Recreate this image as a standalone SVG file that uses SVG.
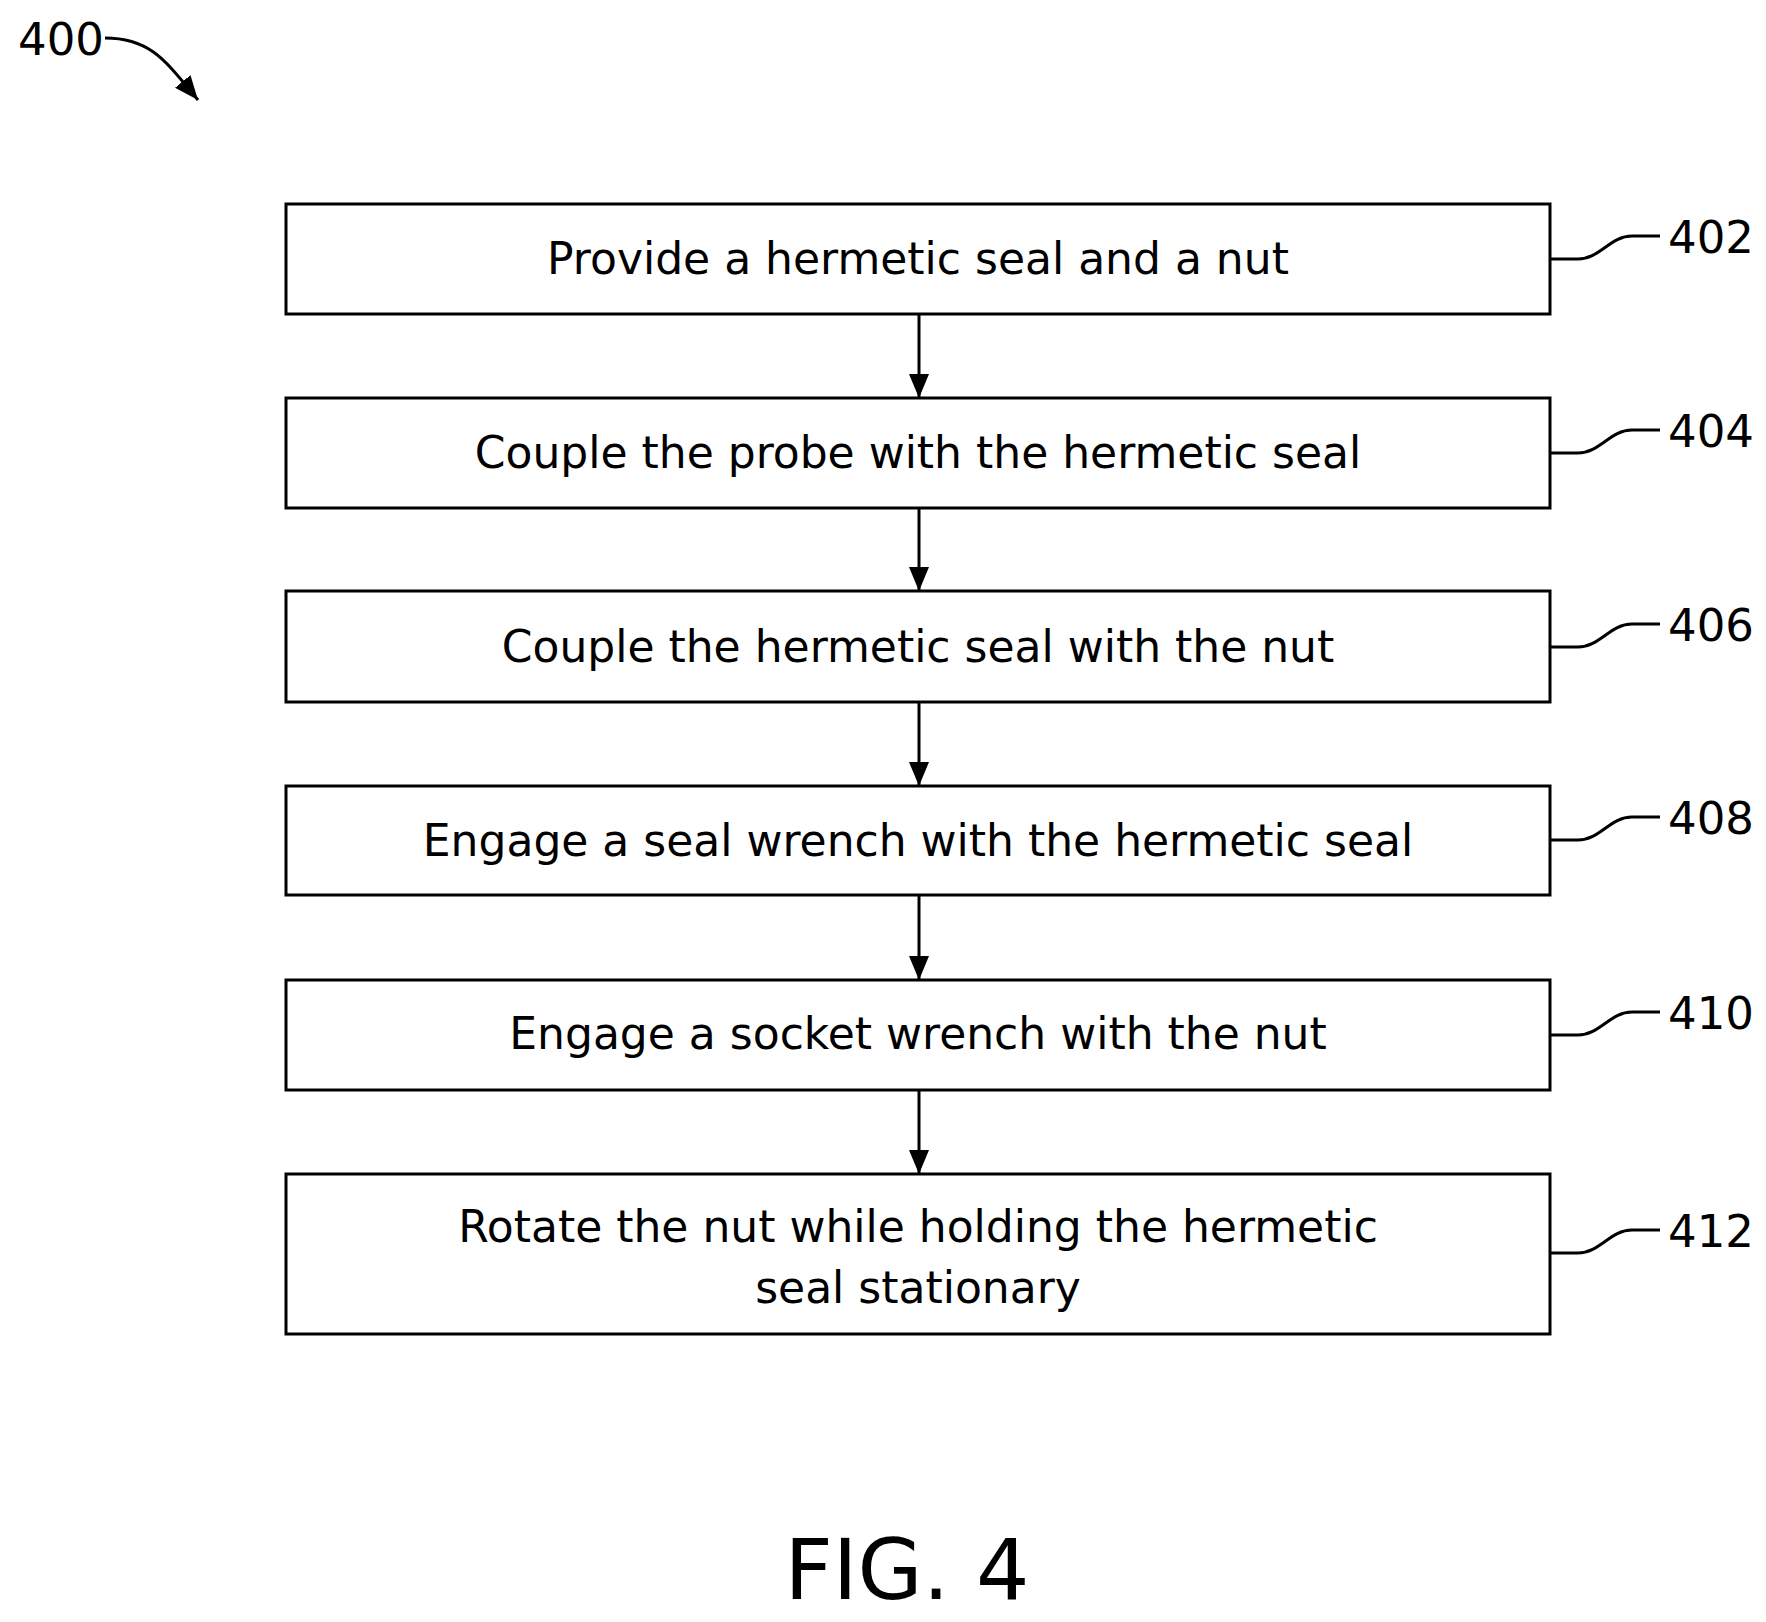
<svg xmlns="http://www.w3.org/2000/svg" width="1766" height="1622" viewBox="0 0 1766 1622">
<style>
.b{fill:#fff;stroke:#000;stroke-width:3}
.t{font-family:"DejaVu Sans",sans-serif;font-size:44px;text-anchor:middle}
.r{font-family:"DejaVu Sans",sans-serif;font-size:45px}
.l{fill:none;stroke:#000;stroke-width:3}
</style>
<defs><marker id="a" markerWidth="10" markerHeight="10" refX="9" refY="5" orient="auto" markerUnits="userSpaceOnUse" viewBox="0 0 10 10"><path d="M0,0L10,5L0,10z"/></marker>
<marker id="h" viewBox="0 0 24 20" refX="24" refY="10" markerWidth="24" markerHeight="20" orient="auto" markerUnits="userSpaceOnUse"><path d="M0,0L24,10L0,20z"/></marker></defs>
<text class="r" x="18" y="55">400</text>
<path class="l" d="M105,38 C150,38 165,60 198,100" marker-end="url(#h)"/>
<g id="n402"><rect class="b" x="286" y="204" width="1264" height="110"/><text class="t" x="918" y="274">Provide a hermetic seal and a nut</text></g>
<g id="n404"><rect class="b" x="286" y="398" width="1264" height="110"/><text class="t" x="918" y="468">Couple the probe with the hermetic seal</text></g>
<g id="n406"><rect class="b" x="286" y="591" width="1264" height="111"/><text class="t" x="918" y="662">Couple the hermetic seal with the nut</text></g>
<g id="n408"><rect class="b" x="286" y="786" width="1264" height="109"/><text class="t" x="918" y="856">Engage a seal wrench with the hermetic seal</text></g>
<g id="n410"><rect class="b" x="286" y="980" width="1264" height="110"/><text class="t" x="918" y="1049">Engage a socket wrench with the nut</text></g>
<g id="n412"><rect class="b" x="286" y="1174" width="1264" height="160"/><text class="t" x="918" y="1242">Rotate the nut while holding the hermetic</text><text class="t" x="918" y="1303">seal stationary</text></g>
<g id="connectors">
<path class="l" d="M919,314V398" marker-end="url(#h)" transform="translate(0,0)"/>
<path class="l" d="M919,508V591" marker-end="url(#h)"/>
<path class="l" d="M919,702V786" marker-end="url(#h)"/>
<path class="l" d="M919,895V980" marker-end="url(#h)"/>
<path class="l" d="M919,1090V1174" marker-end="url(#h)"/>
</g>
<g id="leaders">
<path class="l" d="M1550,259H1578C1600,259 1610,236 1632,236H1660"/>
<path class="l" d="M1550,453H1578C1600,453 1610,430 1632,430H1660"/>
<path class="l" d="M1550,647H1578C1600,647 1610,624 1632,624H1660"/>
<path class="l" d="M1550,840H1578C1600,840 1610,817 1632,817H1660"/>
<path class="l" d="M1550,1035H1578C1600,1035 1610,1012 1632,1012H1660"/>
<path class="l" d="M1550,1253H1578C1600,1253 1610,1230 1632,1230H1660"/>
<text class="r" x="1668" y="253">402</text>
<text class="r" x="1668" y="447">404</text>
<text class="r" x="1668" y="641">406</text>
<text class="r" x="1668" y="834">408</text>
<text class="r" x="1668" y="1029">410</text>
<text class="r" x="1668" y="1247">412</text>
</g>
<text x="907" y="1599" font-family="DejaVu Sans,sans-serif" font-size="84" text-anchor="middle">FIG. 4</text>
</svg>
